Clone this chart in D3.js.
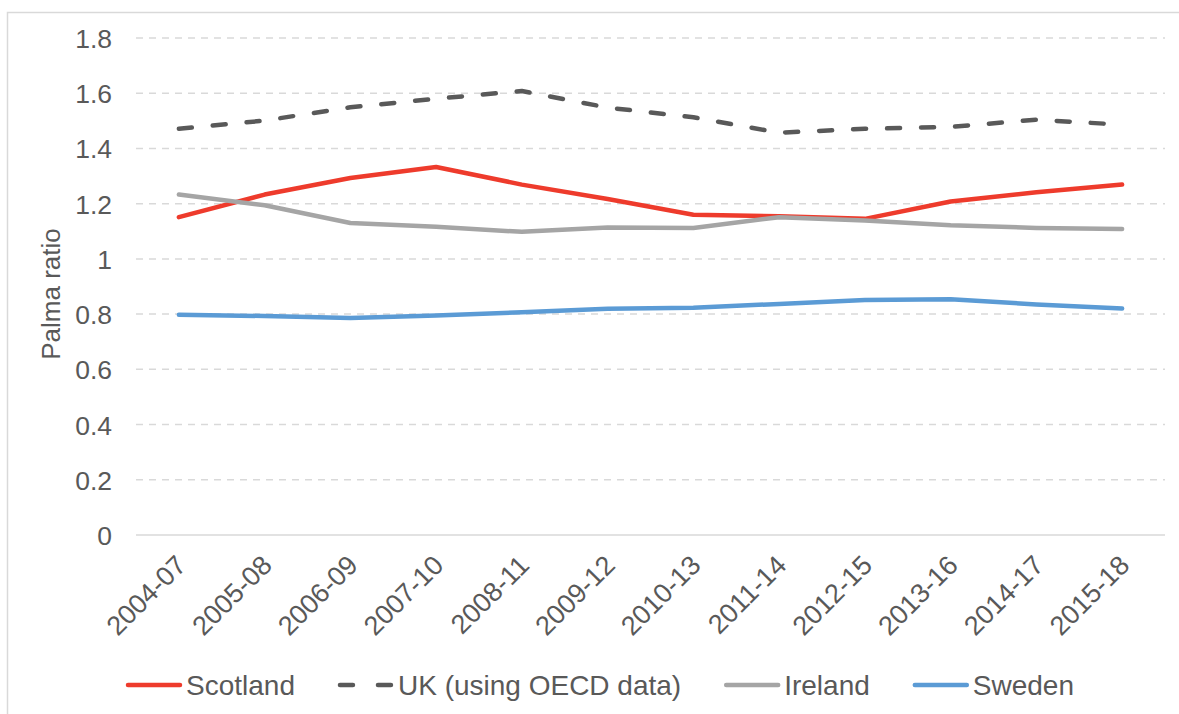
<!DOCTYPE html>
<html>
<head>
<meta charset="utf-8">
<script src="https://cdn.jsdelivr.net/npm/d3@7"></script>
<style>
  body { margin: 0; background: #fff; }
  svg text { font-family: "Liberation Sans", Arial, sans-serif; fill: #595959; }
</style>
</head>
<body>
<div id="chart"></div>
<script>
// =====================================================================
// data
var periods = ["2004-07", "2005-08", "2006-09", "2007-10", "2008-11", "2009-12",
               "2010-13", "2011-14", "2012-15", "2013-16", "2014-17", "2015-18"];
var scotland = [1.151, 1.233, 1.293, 1.333, 1.269, 1.217, 1.160, 1.154, 1.145, 1.208, 1.241, 1.269];
var ukOecd   = [1.471, 1.501, 1.549, 1.580, 1.608, 1.548, 1.513, 1.457, 1.471, 1.478, 1.504, 1.486];
var ireland  = [1.233, 1.194, 1.130, 1.116, 1.098, 1.114, 1.112, 1.151, 1.139, 1.122, 1.112, 1.108];
var sweden   = [0.798, 0.793, 0.786, 0.795, 0.807, 0.819, 0.823, 0.837, 0.851, 0.854, 0.835, 0.820];
var seriesNames = ["Scotland", "UK (using OECD data)", "Ireland", "Sweden"];
var yTicks = [0, 0.2, 0.4, 0.6, 0.8, 1, 1.2, 1.4, 1.6, 1.8];

// =====================================================================
// layout
var width = 1179, height = 714;
var plot = { left: 136, right: 1165, top: 38, bottom: 535 };
var colors = ["#ee3b2c", "#595959", "#a5a5a5", "#5b9bd5"];
var dashes = [null, "13,21", null, null];

var series = [scotland, ukOecd, ireland, sweden].map(function(v, i) {
    return { name: seriesNames[i], values: v, color: colors[i], dash: dashes[i] };
});

var svg = d3.select("#chart").append("svg")
    .attr("width", width).attr("height", height);

// chart frame
svg.append("rect")
    .attr("x", 7.5).attr("y", 12.5)
    .attr("width", 1300).attr("height", 800)
    .attr("fill", "none").attr("stroke", "#d9d9d9").attr("stroke-width", 1.5);

var x = d3.scaleBand().domain(periods).range([plot.left, plot.right]);
var y = d3.scaleLinear().domain([0, 1.8]).range([plot.bottom, plot.top]);

// gridlines
svg.append("g").selectAll("line")
    .data(yTicks).enter().append("line")
    .attr("x1", plot.left).attr("x2", plot.right)
    .attr("y1", function(d) { return y(d); })
    .attr("y2", function(d) { return y(d); })
    .attr("stroke", "#d9d9d9").attr("stroke-width", 1.5)
    .attr("stroke-dasharray", function(d) { return d === 0 ? null : "7,6"; });

// y axis labels
var yAxis = svg.append("g")
    .attr("transform", "translate(" + (plot.left - 24) + ",0)")
    .call(d3.axisLeft(y).tickValues(yTicks).tickSize(0).tickFormat(d3.format("~g")));
yAxis.select(".domain").remove();
yAxis.selectAll("text")
    .attr("x", 0).attr("dy", "0.36em")
    .style("font-size", "26.5px").attr("fill", "#595959");

// y axis title
svg.append("text")
    .attr("transform", "translate(60,294) rotate(-90)")
    .attr("text-anchor", "middle")
    .style("font-size", "26px")
    .text("Palma ratio");

// x axis labels
var xAxis = svg.append("g")
    .attr("transform", "translate(0," + plot.bottom + ")")
    .call(d3.axisBottom(x).tickSize(0));
xAxis.select(".domain").remove();
xAxis.selectAll("text")
    .attr("text-anchor", "end")
    .attr("transform", "translate(2,25) rotate(-45)")
    .attr("x", 0).attr("y", 0).attr("dy", "0.36em")
    .style("font-size", "27px").attr("fill", "#595959");

// lines
var line = d3.line()
    .x(function(d, i) { return x(periods[i]) + x.bandwidth() / 2; })
    .y(function(d) { return y(d); });

svg.append("g").selectAll("path")
    .data(series).enter().append("path")
    .attr("d", function(d) { return line(d.values); })
    .attr("fill", "none")
    .attr("stroke", function(d) { return d.color; })
    .attr("stroke-width", 4.5)
    .attr("stroke-linecap", "round")
    .attr("stroke-linejoin", "round")
    .attr("stroke-dasharray", function(d) { return d.dash; });

// legend
var legend = svg.append("g").attr("transform", "translate(128,685)");
var lx = 0;
series.forEach(function(s) {
    var item = legend.append("g").attr("transform", "translate(" + lx + ",0)");
    item.append("line")
        .attr("x1", 0).attr("x2", 52).attr("y1", 0).attr("y2", 0)
        .attr("stroke", s.color).attr("stroke-width", 4.5)
        .attr("stroke-linecap", "round")
        .attr("stroke-dasharray", s.dash ? "13,25" : null);
    var t = item.append("text")
        .attr("x", 58).attr("y", 0).attr("dy", "0.36em")
        .style("font-size", "28px")
        .text(s.name);
    lx += 58 + t.node().getComputedTextLength() + 45;
});
</script>
</body>
</html>
